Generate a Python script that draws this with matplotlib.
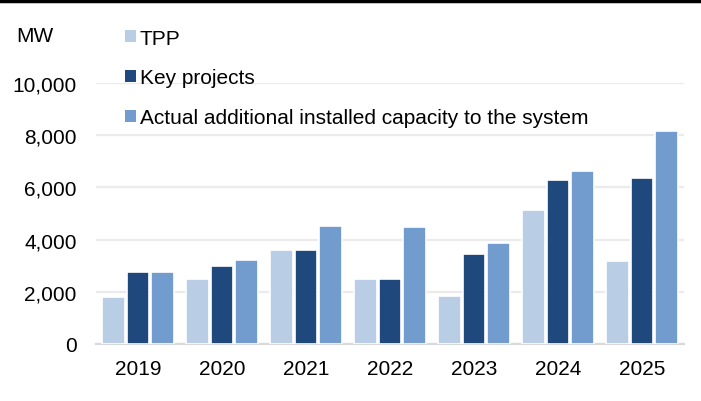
import matplotlib.pyplot as plt
from matplotlib.patches import Patch
from matplotlib.lines import Line2D
import numpy as np

plt.rcParams['font.family'] = ['Liberation Sans', 'DejaVu Sans']

years = ['2019', '2020', '2021', '2022', '2023', '2024', '2025']
tpp = [1800, 2500, 3600, 2500, 1840, 5120, 3170]
key_projects = [2750, 3000, 3600, 2500, 3440, 6300, 6370]
actual_added = [2750, 3220, 4510, 4500, 3870, 6630, 8160]

series = [
    ('TPP', tpp, '#B9CDE5'),
    ('Key projects', key_projects, '#1F497D'),
    ('Actual additional installed capacity to the system', actual_added, '#739CCE'),
]

fig = plt.figure(figsize=(7.01, 4.02), dpi=100)
ax = fig.add_axes([96 / 701, (402 - 345) / 402, 588 / 701, (345 - 84) / 402])

x = np.arange(len(years))
slot = 0.294
for i, (name, vals, color) in enumerate(series):
    ax.bar(x + (i - 1) * slot, vals, width=0.27, color=color,
           edgecolor='white', linewidth=1.2, label=name, zorder=3)

ax.set_xlim(-0.5, 6.5)
ax.set_ylim(0, 10000)
ax.set_yticks(range(0, 10001, 2000))
ax.set_yticklabels([f'{v:,}' for v in range(0, 10001, 2000)])
ax.set_xticks(x)
ax.set_xticklabels(years)
ax.tick_params(axis='both', length=0, labelsize=15, colors='black')
ax.tick_params(axis='y', pad=14)
ax.tick_params(axis='x', pad=10.5)
ax.grid(axis='y', color='#EBEBEB', linewidth=1.6, zorder=0)
for s in ['top', 'right', 'left']:
    ax.spines[s].set_visible(False)
ax.spines['bottom'].set_color('#D9D9D9')
ax.spines['bottom'].set_linewidth(1.6)

handles = [Patch(facecolor=c, edgecolor='none') for _, _, c in series]
fig.legend(handles, [n for n, _, _ in series], loc='upper left',
           bbox_to_anchor=(125 / 701, 1 - 29.5 / 402), frameon=False,
           fontsize=15, handlelength=0.53, handleheight=0.53,
           handletextpad=0.19, labelspacing=1.0, borderpad=0, borderaxespad=0)

fig.text(16 / 701, 1 - 37 / 402, 'MW', fontsize=15, va='center', ha='left')

# heavy rule along the top edge
fig.add_artist(Line2D([0, 1], [1 - 1.5 / 402, 1 - 1.5 / 402], color='black',
                      linewidth=2.5, transform=fig.transFigure))

fig.savefig('out.png', dpi=100)
